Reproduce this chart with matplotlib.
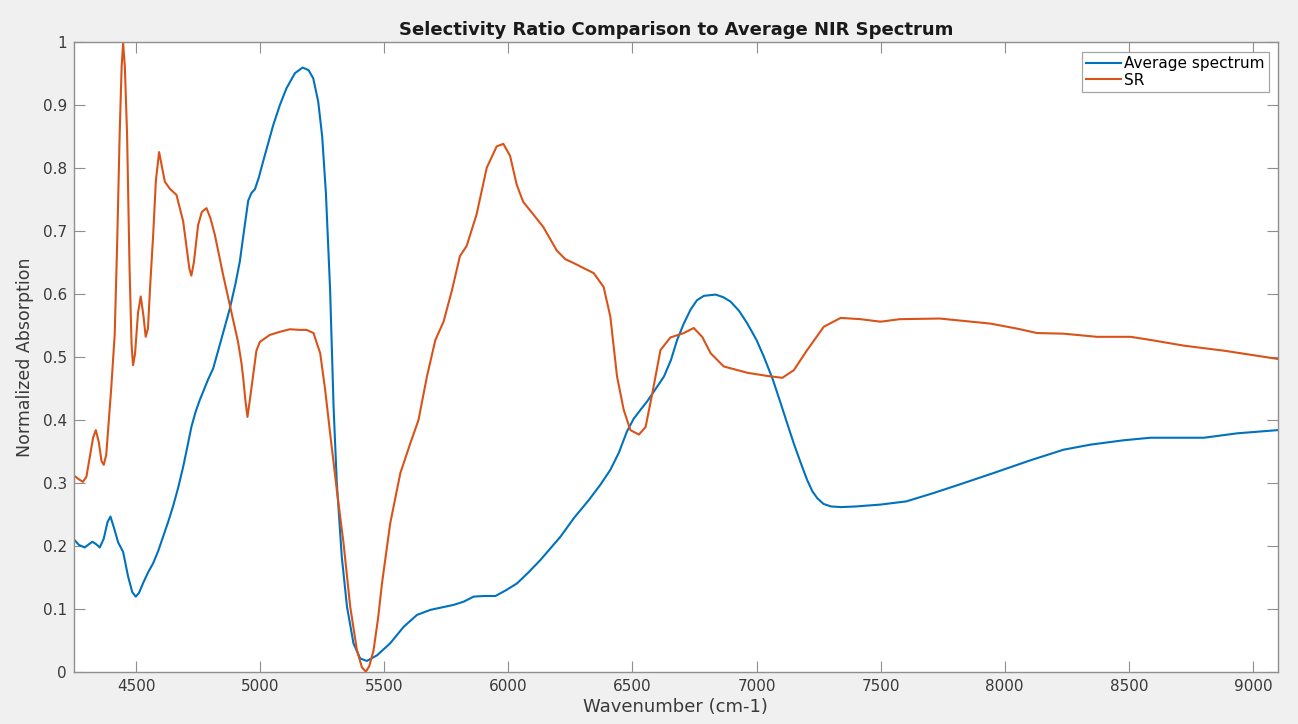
import matplotlib
matplotlib.use("Agg")
import matplotlib.pyplot as plt

# Average NIR spectrum: wavenumber (cm-1) and normalized absorption
avg_wn = [4247, 4270, 4293, 4310, 4324, 4340, 4354, 4370, 4385, 4397, 4412, 4428,
          4448, 4468, 4485, 4499, 4512, 4528, 4548, 4569, 4589, 4609, 4629, 4649,
          4670, 4690, 4707, 4723, 4740, 4757, 4790, 4811, 4845, 4878, 4900, 4918,
          4935, 4952, 4965, 4979, 4995, 5012, 5053, 5080, 5106, 5140, 5171, 5195,
          5214, 5234, 5250, 5265, 5282, 5296, 5309, 5329, 5350, 5376, 5403, 5430,
          5471, 5524, 5578, 5632, 5686, 5780, 5820, 5860, 5900, 5948, 5990, 6035,
          6080, 6129, 6210, 6265, 6324, 6370, 6411, 6445, 6478, 6505, 6532, 6560,
          6586, 6627, 6655, 6680, 6707, 6734, 6760, 6788, 6835, 6865, 6895, 6930,
          6963, 7000, 7030, 7065, 7097, 7125, 7150, 7180, 7204, 7225, 7245, 7270,
          7300, 7340, 7400, 7500, 7603, 7711, 7819, 7955, 8102, 8237, 8345, 8480,
          8588, 8722, 8803, 8937, 9099]
avg_val = [0.212, 0.202, 0.198, 0.203, 0.207, 0.203, 0.198, 0.212, 0.238, 0.247, 0.228, 0.206,
           0.191, 0.152, 0.127, 0.120, 0.126, 0.141, 0.158, 0.173, 0.192, 0.215, 0.238, 0.263,
           0.293, 0.326, 0.358, 0.389, 0.413, 0.432, 0.464, 0.482, 0.530, 0.577, 0.615, 0.651,
           0.700, 0.748, 0.760, 0.766, 0.785, 0.810, 0.868, 0.900, 0.926, 0.950, 0.959, 0.955,
           0.942, 0.905, 0.850, 0.760, 0.606, 0.420, 0.300, 0.183, 0.104, 0.046, 0.022, 0.018,
           0.027, 0.046, 0.072, 0.091, 0.099, 0.107, 0.112, 0.120, 0.121, 0.121, 0.130, 0.141,
           0.158, 0.178, 0.215, 0.245, 0.273, 0.297, 0.321, 0.348, 0.382, 0.402, 0.416, 0.430,
           0.445, 0.469, 0.495, 0.527, 0.553, 0.575, 0.590, 0.597, 0.599, 0.595, 0.588, 0.573,
           0.553, 0.527, 0.500, 0.465, 0.427, 0.393, 0.363, 0.330, 0.305, 0.287, 0.276, 0.267,
           0.263, 0.262, 0.263, 0.266, 0.271, 0.284, 0.298, 0.316, 0.336, 0.353, 0.361, 0.368,
           0.372, 0.372, 0.372, 0.379, 0.384]

# Selectivity ratio (normalized)
sr_wn = [4247, 4270, 4286, 4300, 4315, 4327, 4338, 4350, 4361, 4370, 4380, 4391,
         4400, 4414, 4424, 4434, 4442, 4448, 4455, 4464, 4474, 4482, 4488, 4496,
         4508, 4519, 4530, 4539, 4548, 4558, 4569, 4580, 4593, 4605, 4616, 4636,
         4663, 4690, 4705, 4715, 4723, 4733, 4750, 4765, 4784, 4800, 4818, 4851,
         4878, 4911, 4925, 4932, 4941, 4949, 4958, 4972, 4985, 4999, 5039, 5080,
         5120, 5160, 5187, 5215, 5242, 5262, 5282, 5309, 5336, 5363, 5390, 5410,
         5426, 5440, 5457, 5475, 5491, 5524, 5565, 5605, 5638, 5672, 5706, 5739,
         5773, 5805, 5832, 5872, 5913, 5953, 5980, 6007, 6034, 6060, 6101, 6141,
         6195, 6230, 6263, 6344, 6384, 6411, 6438, 6465, 6492, 6526, 6553, 6580,
         6613, 6653, 6707, 6747, 6781, 6815, 6868, 6963, 7043, 7104, 7150, 7204,
         7271, 7339, 7419, 7500, 7577, 7738, 7942, 8050, 8130, 8237, 8372, 8507,
         8588, 8722, 8884, 9099]
sr_val = [0.313, 0.306, 0.302, 0.310, 0.345, 0.372, 0.384, 0.365, 0.335, 0.329, 0.345, 0.403,
          0.450, 0.535, 0.680, 0.852, 0.960, 0.998, 0.960, 0.852, 0.640, 0.520, 0.487, 0.505,
          0.570, 0.596, 0.565, 0.532, 0.545, 0.620, 0.693, 0.780, 0.825, 0.800, 0.778, 0.767,
          0.757, 0.715, 0.670, 0.640, 0.629, 0.650, 0.709, 0.730, 0.736, 0.720, 0.693, 0.630,
          0.582, 0.524, 0.490, 0.466, 0.430, 0.405, 0.430, 0.471, 0.510, 0.524, 0.535, 0.540,
          0.544, 0.543, 0.543, 0.538, 0.506, 0.448, 0.379, 0.289, 0.205, 0.104, 0.035, 0.008,
          0.001, 0.010, 0.035, 0.085, 0.141, 0.236, 0.316, 0.363, 0.400, 0.469, 0.527, 0.556,
          0.606, 0.660, 0.676, 0.726, 0.800, 0.834, 0.838, 0.819, 0.773, 0.746, 0.726, 0.706,
          0.669, 0.655, 0.649, 0.633, 0.611, 0.564, 0.469, 0.416, 0.384, 0.377, 0.389, 0.442,
          0.511, 0.531, 0.538, 0.546, 0.532, 0.506, 0.485, 0.475, 0.470, 0.467, 0.479, 0.511,
          0.548, 0.562, 0.560, 0.556, 0.560, 0.561, 0.553, 0.545, 0.538, 0.537, 0.532, 0.532,
          0.527, 0.518, 0.510, 0.497]

x_ticks = [4500, 5000, 5500, 6000, 6500, 7000, 7500, 8000, 8500, 9000]
y_ticks = [0, 0.1, 0.2, 0.3, 0.4, 0.5, 0.6, 0.7, 0.8, 0.9, 1]
y_tick_labels = ["0", "0.1", "0.2", "0.3", "0.4", "0.5", "0.6", "0.7", "0.8", "0.9", "1"]

plt.rcParams["font.family"] = ["DejaVu Sans"]

fig = plt.figure(figsize=(12.98, 7.24), dpi=100, facecolor="#f0f0f0")
ax = fig.add_axes([0.0568, 0.0714, 0.9276, 0.871])
ax.set_facecolor("white")

ax.plot(avg_wn, avg_val, color="#0072BD", lw=1.5, label="Average spectrum")
ax.plot(sr_wn, sr_val, color="#D95319", lw=1.5, label="SR")

ax.set_xlim(4249, 9100)
ax.set_ylim(0, 1)
ax.set_xticks(x_ticks)
ax.set_yticks(y_ticks)
ax.set_yticklabels(y_tick_labels)

spine_col = "#8f8f8f"
for s in ax.spines.values():
    s.set_color(spine_col)
    s.set_linewidth(1.0)
ax.tick_params(direction="in", length=8, width=0.8, color=spine_col,
               top=True, right=True, labelsize=11, labelcolor="#3a3a3a", pad=5)

ax.set_title("Selectivity Ratio Comparison to Average NIR Spectrum",
             fontsize=13, fontweight="bold", color="#1a1a1a", pad=5)
ax.set_xlabel("Wavenumber (cm-1)", fontsize=13, color="#3a3a3a", labelpad=3)
ax.set_ylabel("Normalized Absorption", fontsize=12.5, color="#3a3a3a", labelpad=6)

leg = ax.legend(loc="upper right", bbox_to_anchor=(0.9925, 0.983), fontsize=11,
                frameon=True, fancybox=False, handlelength=2.3, handletextpad=0.2,
                borderpad=0.25, labelspacing=0.1, borderaxespad=0)
leg.get_frame().set_edgecolor("#8f8f8f")
leg.get_frame().set_linewidth(0.9)

fig.savefig("out.png", dpi=100, facecolor=fig.get_facecolor())
